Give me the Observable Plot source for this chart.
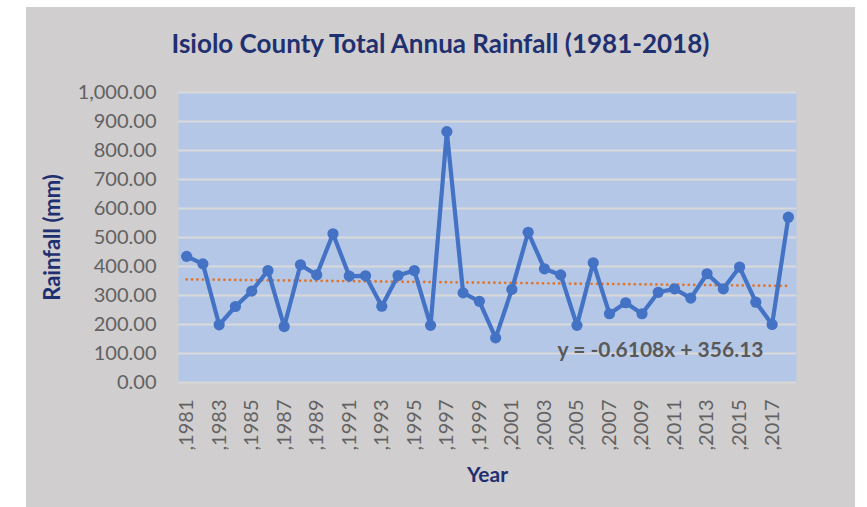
<!DOCTYPE html>
<html>
<head>
<meta charset="utf-8">
<script src="https://cdn.jsdelivr.net/npm/d3@7"></script>
<script src="https://cdn.jsdelivr.net/npm/@observablehq/plot@0.6"></script>
<style>
  html, body { margin: 0; padding: 0; background: #ffffff; }
  #panel {
    position: absolute; left: 26px; top: 7px; width: 829px; height: 500px;
    background: #D0CECE; font-family: Lato, "Open Sans", sans-serif;
  }
  #title {
    height: 72px; line-height: 72px; text-align: center;
    font-weight: bold; font-size: 26px; color: #1F3070;
  }
  #chart svg { display: block; overflow: visible; }
</style>
</head>
<body>
<div id="panel">
  <div id="title">Isiolo County Total Annua Rainfall (1981-2018)</div>
  <div id="chart"></div>
</div>
<script>
// Annual rainfall totals for Isiolo County, mm
const years = [1981, 1982, 1983, 1984, 1985, 1986, 1987, 1988, 1989, 1990,
               1991, 1992, 1993, 1994, 1995, 1996, 1997, 1998, 1999, 2000,
               2001, 2002, 2003, 2004, 2005, 2006, 2007, 2008, 2009, 2010,
               2011, 2012, 2013, 2014, 2015, 2016, 2017, 2018];
const rainfall = [435, 409, 199, 262, 315, 386, 193, 406, 371, 513,
                  367, 368, 263, 369, 386, 197, 865, 309, 280, 154,
                  321, 518, 392, 371, 197, 413, 237, 275, 237, 311,
                  323, 291, 375, 323, 398, 277, 200, 570];

// Linear trend fitted over the series index (x = 1 for 1981)
const trendSlope = -0.6108;
const trendIntercept = 356.13;
const trendYears = [1981, 2018];

// Axis ticks and labels
const yTicks = [0, 100, 200, 300, 400, 500, 600, 700, 800, 900, 1000];
const xTickYears = [1981, 1983, 1985, 1987, 1989, 1991, 1993, 1995, 1997, 1999,
                    2001, 2003, 2005, 2007, 2009, 2011, 2013, 2015, 2017];
const xTickLabels = [",1981", ",1983", ",1985", ",1987", ",1989", ",1991", ",1993",
                     ",1995", ",1997", ",1999", ",2001", ",2003", ",2005", ",2007",
                     ",2009", ",2011", ",2013", ",2015", ",2017"];

const navy = "#1F3070";
const tickGray = "#626262";
const equation = `y = ${trendSlope}x + ${trendIntercept}`;

const chart = Plot.plot({
  width: 829,
  height: 428,
  marginLeft: 152,
  marginRight: 59,
  marginTop: 13,
  marginBottom: 125,
  style: { background: "transparent", fontFamily: "Lato, 'Open Sans', sans-serif", overflow: "visible" },
  x: { type: "linear", domain: [1980.5, 2018.5] },
  y: { domain: [0, 1000] },
  marks: [
    Plot.frame({ fill: "#B4C7E7", stroke: "none" }),
    Plot.ruleY(yTicks, { stroke: "#D9D9D9", strokeWidth: 2 }),
    Plot.axisY({
      ticks: yTicks, tickFormat: d3.format(",.2f"), tickSize: 0, tickPadding: 22,
      fontSize: 20, color: tickGray, label: null
    }),
    Plot.axisX({
      ticks: xTickYears, tickFormat: d => xTickLabels[xTickYears.indexOf(d)],
      tickRotate: -90, tickSize: 0, tickPadding: 17,
      fontSize: 20, color: tickGray, label: null
    }),
    Plot.line(trendYears, {
      x: d => d, y: d => trendSlope * (d - 1980) + trendIntercept,
      stroke: "#E2742A", strokeWidth: 2.8, strokeDasharray: "0 5.4", strokeLinecap: "round"
    }),
    Plot.line(rainfall, {
      x: years, y: rainfall, stroke: "#4472C4", strokeWidth: 4.2,
      strokeLinejoin: "round", strokeLinecap: "round"
    }),
    Plot.dot(rainfall, { x: years, y: rainfall, r: 5.6, fill: "#4472C4", stroke: "none" }),
    Plot.text([equation], {
      text: d => d, frameAnchor: "bottom-right", dx: -33, dy: -32,
      textAnchor: "end", lineAnchor: "middle", fontSize: 21, fontWeight: "bold", fill: "#595959"
    }),
    Plot.text(["Rainfall (mm)"], {
      text: d => d, frameAnchor: "left", dx: -126, rotate: -90,
      textAnchor: "middle", lineAnchor: "middle", fontSize: 22, fontWeight: "bold", fill: navy
    }),
    Plot.text(["Year"], {
      text: d => d, frameAnchor: "bottom", dy: 93,
      lineAnchor: "middle", fontSize: 21, fontWeight: "bold", fill: navy
    })
  ]
});

document.getElementById("chart").appendChild(chart);
</script>
</body>
</html>
